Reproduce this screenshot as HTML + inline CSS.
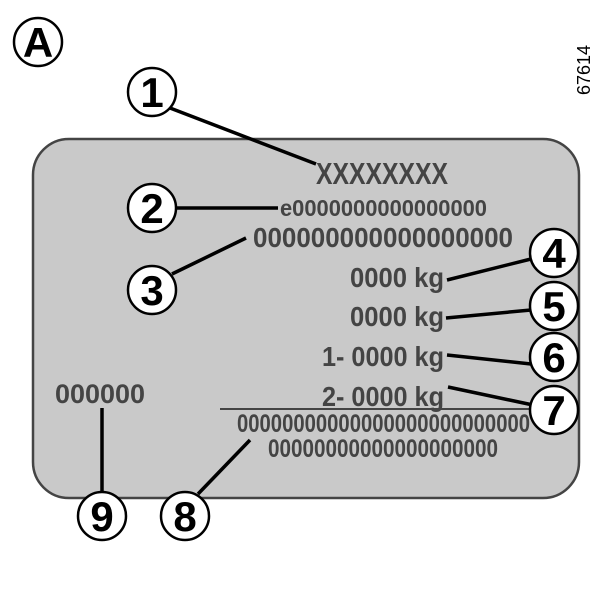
<!DOCTYPE html>
<html><head><style>body{margin:0;background:#fff}</style></head><body>
<svg width="600" height="600" viewBox="0 0 600 600" xmlns="http://www.w3.org/2000/svg" font-family="Liberation Sans, sans-serif">
<rect x="33" y="139" width="546" height="359" rx="36" fill="#c9c9c9" stroke="#444" stroke-width="2.5"/>
<g stroke="#000" stroke-width="3.5" fill="none">
<line x1="170" y1="108" x2="316" y2="164"/>
<line x1="176" y1="208" x2="278" y2="208"/>
<line x1="172" y1="274" x2="246" y2="238"/>
<line x1="531" y1="259" x2="447" y2="280"/>
<line x1="531" y1="310" x2="446" y2="318"/>
<line x1="531" y1="364" x2="447" y2="355"/>
<line x1="533" y1="405" x2="448" y2="387"/>
<line x1="102" y1="408" x2="102" y2="493"/>
<line x1="198" y1="494" x2="250" y2="440"/>
</g>
<line x1="220" y1="409" x2="530" y2="409" stroke="#444" stroke-width="2"/>
<g fill="#444" font-weight="bold">
<text x="316" y="184" font-size="31" textLength="132" lengthAdjust="spacingAndGlyphs">XXXXXXXX</text>
<text x="280" y="216" font-size="23" textLength="207" lengthAdjust="spacingAndGlyphs">e0000000000000000</text>
<text x="253" y="247" font-size="28" textLength="260" lengthAdjust="spacingAndGlyphs">000000000000000000</text>
<text x="444" y="287" font-size="28" text-anchor="end" textLength="94" lengthAdjust="spacingAndGlyphs">0000 kg</text>
<text x="444" y="326" font-size="28" text-anchor="end" textLength="94" lengthAdjust="spacingAndGlyphs">0000 kg</text>
<text x="444" y="366" font-size="28" text-anchor="end" textLength="122" lengthAdjust="spacingAndGlyphs">1- 0000 kg</text>
<text x="444" y="406" font-size="28" text-anchor="end" textLength="122" lengthAdjust="spacingAndGlyphs">2- 0000 kg</text>
<text x="55" y="403" font-size="27" textLength="90" lengthAdjust="spacingAndGlyphs">000000</text>
<text x="237" y="432" font-size="25" textLength="293" lengthAdjust="spacingAndGlyphs">00000000000000000000000000</text>
<text x="268" y="457" font-size="25" textLength="230" lengthAdjust="spacingAndGlyphs">00000000000000000000</text>
</g>
<g stroke="#000" stroke-width="2.5" fill="#fff">
<circle cx="38" cy="42" r="24"/>
<circle cx="152" cy="92" r="24"/>
<circle cx="152" cy="208" r="24"/>
<circle cx="152" cy="290" r="24"/>
<circle cx="554" cy="253" r="24"/>
<circle cx="554" cy="306" r="24"/>
<circle cx="554" cy="357" r="24"/>
<circle cx="554" cy="410" r="24"/>
<circle cx="102" cy="516" r="24"/>
<circle cx="185" cy="516" r="24"/>
</g>
<g font-weight="bold" font-size="42" text-anchor="middle" fill="#000">
<text x="38" y="57">A</text>
<text x="152" y="107">1</text>
<text x="152" y="223">2</text>
<text x="152" y="305">3</text>
<text x="554" y="268">4</text>
<text x="554" y="321">5</text>
<text x="554" y="372">6</text>
<text x="554" y="425">7</text>
<text x="102" y="531">9</text>
<text x="185" y="531">8</text>
</g>
<text transform="translate(590,95) rotate(-90)" font-size="18" fill="#000">67614</text>
</svg>
</body></html>
